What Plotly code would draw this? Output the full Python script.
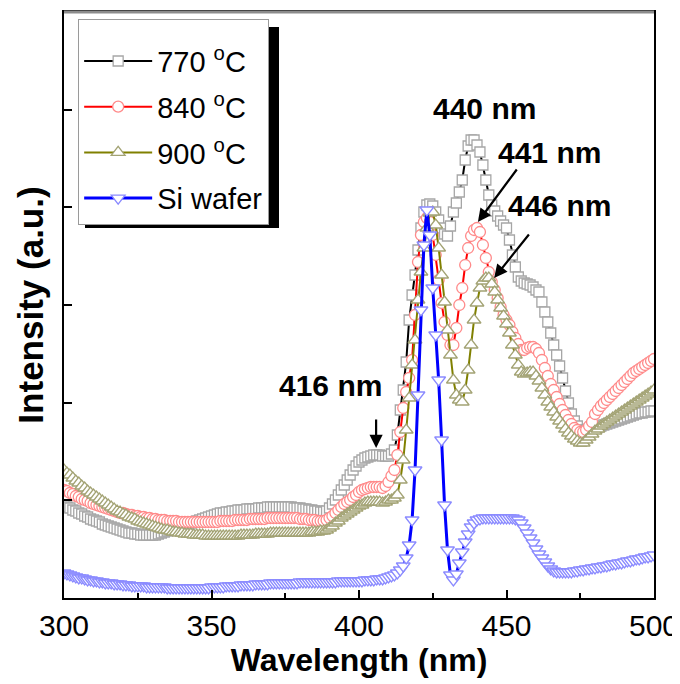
import plotly.graph_objects as go

# Wavelength grid (nm)
wavelength = list(range(300, 501))

# Intensities (a.u.), one value per nm, 300..500
pl_770 = [
    93, 91, 90, 88, 87, 85, 84, 82, 81, 79,
    78, 77, 76, 74, 73, 72, 71, 70, 69, 68,
    67, 66, 65, 65, 64, 64, 63, 63, 63, 63,
    63, 63, 64, 65, 66, 67, 68, 69, 70, 71,
    72, 73, 74, 75, 76, 77, 78, 79, 80, 81,
    82, 83, 84, 85, 85, 86, 86, 87, 87, 88,
    88, 88, 89, 89, 89, 89, 90, 90, 90, 91,
    91, 91, 91, 91, 91, 91, 91, 91, 90, 90,
    90, 89, 89, 88, 88, 87, 87, 86, 86, 87,
    90, 94, 98, 103, 108, 113, 118, 123, 128, 132,
    136, 138, 140, 141, 142, 143, 143, 143, 142, 142,
    142, 144, 148, 163, 188, 208, 236, 278, 303, 323,
    348, 370, 386, 393, 394, 392, 386, 378, 370, 364,
    362, 372, 386, 395, 406, 418, 438, 452, 458, 458,
    453, 446, 433, 418, 403, 393, 387, 382, 377, 373,
    370, 358, 343, 331, 321, 317, 315, 314, 313, 311,
    308, 306, 296, 286, 276, 265, 253, 243, 232, 220,
    207, 195, 184, 177, 172, 168, 167, 168, 169, 170,
    170, 171, 172, 173, 174, 175, 176, 177, 178, 179,
    180, 181, 182, 183, 184, 185, 185, 186, 186, 187, 187,
]

pl_840 = [
    108, 107, 105, 104, 102, 101, 99, 98, 97, 95,
    94, 93, 92, 91, 90, 89, 88, 87, 86, 85,
    85, 84, 83, 83, 82, 82, 81, 81, 80, 80,
    79, 79, 78, 78, 78, 77, 77, 77, 77, 76,
    76, 76, 76, 76, 76, 76, 76, 76, 76, 76,
    76, 76, 76, 77, 77, 77, 77, 77, 78, 78,
    78, 78, 78, 79, 79, 79, 79, 79, 79, 80,
    80, 80, 80, 80, 80, 80, 80, 80, 80, 80,
    79, 79, 79, 78, 78, 78, 77, 77, 77, 78,
    80, 82, 85, 88, 91, 94, 96, 98, 101, 103,
    106, 108, 109, 110, 111, 111, 111, 111, 110, 112,
    116, 122, 128, 143, 166, 190, 206, 220, 238, 283,
    336, 363, 376, 380, 376, 363, 343, 318, 295, 276,
    263, 253, 253, 270, 293, 310, 333, 350, 362, 368,
    370, 366, 353, 340, 326, 316, 308, 300, 291, 283,
    278, 273, 266, 260, 254, 248, 248, 250, 251, 251,
    249, 245, 238, 230, 222, 214, 208, 201, 194, 188,
    183, 178, 174, 170, 168, 166, 166, 168, 172, 176,
    184, 188, 192, 195, 198, 201, 204, 207, 210, 213,
    216, 219, 222, 225, 227, 229, 231, 233, 235, 237, 239,
]

pl_900 = [
    128, 125, 123, 120, 117, 115, 112, 110, 107, 105,
    103, 101, 99, 97, 95, 93, 91, 89, 87, 86,
    84, 83, 81, 80, 79, 77, 76, 75, 74, 73,
    72, 71, 70, 69, 68, 68, 67, 66, 66, 65,
    65, 64, 64, 64, 63, 63, 63, 63, 62, 62,
    62, 62, 62, 62, 62, 62, 62, 62, 62, 62,
    63, 63, 63, 63, 63, 64, 64, 64, 64, 64,
    65, 65, 65, 65, 65, 65, 65, 65, 65, 65,
    65, 65, 65, 65, 66, 66, 66, 67, 67, 68,
    70, 72, 75, 77, 80, 82, 84, 86, 88, 90,
    92, 93, 95, 96, 96, 96, 96, 96, 95, 96,
    98, 98, 100, 103, 118, 138, 168, 200, 233, 258,
    298, 326, 350, 370, 385, 386, 373, 350, 323, 296,
    268, 243, 218, 203, 198, 196, 208, 228, 253, 278,
    295, 310, 317, 320, 320, 314, 306, 298, 290, 282,
    274, 265, 253, 243, 233, 226, 224, 225, 226, 226,
    222, 217, 210, 203, 196, 191, 186, 181, 177, 173,
    169, 165, 162, 159, 157, 155, 155, 158, 161, 164,
    167, 169, 172, 174, 176, 178, 180, 182, 184, 186,
    188, 190, 192, 194, 196, 198, 200, 202, 204, 206, 208,
]

pl_si = [
    25, 24, 23, 22, 21, 20, 20, 19, 18, 18,
    17, 17, 16, 16, 15, 15, 15, 14, 14, 14,
    13, 13, 13, 12, 12, 12, 12, 12, 11, 11,
    11, 11, 11, 11, 11, 10, 10, 10, 10, 10,
    10, 10, 10, 10, 10, 10, 10, 10, 10, 10,
    11, 11, 11, 11, 11, 12, 12, 12, 12, 12,
    13, 13, 13, 13, 13, 14, 14, 14, 14, 14,
    15, 15, 15, 15, 15, 15, 15, 15, 15, 15,
    16, 16, 16, 16, 16, 16, 16, 16, 16, 16,
    16, 16, 16, 17, 17, 17, 17, 17, 17, 17,
    17, 17, 18, 18, 18, 18, 19, 19, 19, 20,
    21, 22, 23, 25, 28, 32, 40, 53, 78, 128,
    203, 288, 353, 388, 363, 310, 263, 218, 158, 93,
    48, 23, 18, 24, 35, 46, 56, 64, 71, 75,
    78, 79, 80, 80, 80, 80, 80, 80, 80, 80,
    80, 80, 80, 79, 78, 75, 70, 65, 60, 55,
    49, 44, 40, 36, 32, 29, 27, 26, 26, 26,
    26, 26, 26, 27, 27, 28, 28, 29, 29, 30,
    30, 31, 31, 32, 32, 33, 34, 34, 35, 35,
    36, 37, 37, 38, 39, 39, 40, 41, 41, 42, 43,
]

series_names = ["770 <sup>o</sup>C", "840 <sup>o</sup>C", "900 <sup>o</sup>C", "Si wafer"]
series_values = [pl_770, pl_840, pl_900, pl_si]

# styles
line_colors = ["#000000", "#ff0000", "#808000", "#0000ff"]
marker_edges = ["#a6a6a6", "#ff8a8a", "#a3a374", "#8a8aff"]
marker_symbols = ["square", "circle", "triangle-up", "triangle-down"]
marker_sizes = [10, 11, 12, 12]
line_widths = [2, 2, 2, 3]

FONT = "Liberation Sans, Arial, sans-serif"

fig = go.Figure()
for i, (name, vals, lc, mc, sym, sz, lw) in enumerate(zip(
        series_names, series_values, line_colors, marker_edges,
        marker_symbols, marker_sizes, line_widths)):
    fig.add_trace(go.Scatter(
        x=wavelength, y=vals, mode="lines+markers", name=name,
        legendgroup=f"g{i}",
        line=dict(color=lc, width=lw),
        marker=dict(symbol=sym, size=sz, color="white",
                    line=dict(color=mc, width=1.3)),
    ))

# page is offset by the 8px body margin: plot area spans x 64..654, y 12..598 on the page
fig.update_layout(
    width=672, height=676,
    margin=dict(l=56, r=26, t=4, b=86, autoexpand=False),
    paper_bgcolor="white", plot_bgcolor="white",
    font=dict(family=FONT, color="black"),
    showlegend=True,
    legend=dict(
        x=0.024, y=0.988, xanchor="left", yanchor="top",
        bgcolor="white", bordercolor="#9a9a9a", borderwidth=1,
        font=dict(family=FONT, size=29, color="black"),
        title=dict(text=" ", font=dict(size=12)),
        tracegroupgap=5, itemwidth=68,
    ),
    xaxis=dict(
        range=[300, 500], dtick=50, tick0=300, automargin=False,
        ticks="inside", ticklen=8, tickwidth=1.5, tickcolor="black",
        showline=True, linecolor="black", linewidth=2, mirror=True,
        showgrid=False, zeroline=False,
        tickfont=dict(family=FONT, size=30),
        minor=dict(dtick=25, ticks="inside", ticklen=5, tickcolor="black", tickwidth=1.5),
        title=dict(text="<b>Wavelength (nm)</b>", font=dict(family=FONT, size=32), standoff=4),
    ),
    yaxis=dict(
        range=[0, 586], dtick=97.7, tick0=0, automargin=False,
        ticks="inside", ticklen=8, tickwidth=1.5, tickcolor="black",
        showticklabels=False,
        showline=True, linecolor="black", linewidth=2, mirror=True,
        showgrid=False, zeroline=False,
        title=dict(text="<b>Intensity (a.u.)</b>", font=dict(family=FONT, size=35), standoff=8),
    ),
    shapes=[
        # legend shadow
        dict(type="rect", xref="paper", yref="paper",
             x0=(85 - 64) / 590, x1=(279 - 64) / 590,
             y0=(598 - 228) / 586, y1=(598 - 27) / 586,
             fillcolor="black", line=dict(width=0), layer="above"),
        # grey top border
        dict(type="line", xref="paper", yref="paper", x0=0, x1=1, y0=1, y1=1,
             line=dict(color="#8c8c8c", width=3), layer="above"),
    ],
)

ann_font = dict(family=FONT, size=30, color="black")
labels = [("<b>440 nm</b>", 442.4, 490), ("<b>441 nm</b>", 464.7, 446),
          ("<b>446 nm</b>", 468.1, 393), ("<b>416 nm</b>", 390.2, 213)]
for txt, xv, yv in labels:
    fig.add_annotation(x=xv, y=yv, text=txt, showarrow=False, font=ann_font,
                       xanchor="center", yanchor="middle")

arrows = [(440.3, 376, 40, -54), (445.8, 320, 36, -45), (405.8, 150, 0, -30)]
for xv, yv, axp, ayp in arrows:
    fig.add_annotation(x=xv, y=yv, text="", showarrow=True, ax=axp, ay=ayp,
                       arrowhead=2, arrowsize=1.2, arrowwidth=2.2, arrowcolor="black")

fig.write_html("out.html")
